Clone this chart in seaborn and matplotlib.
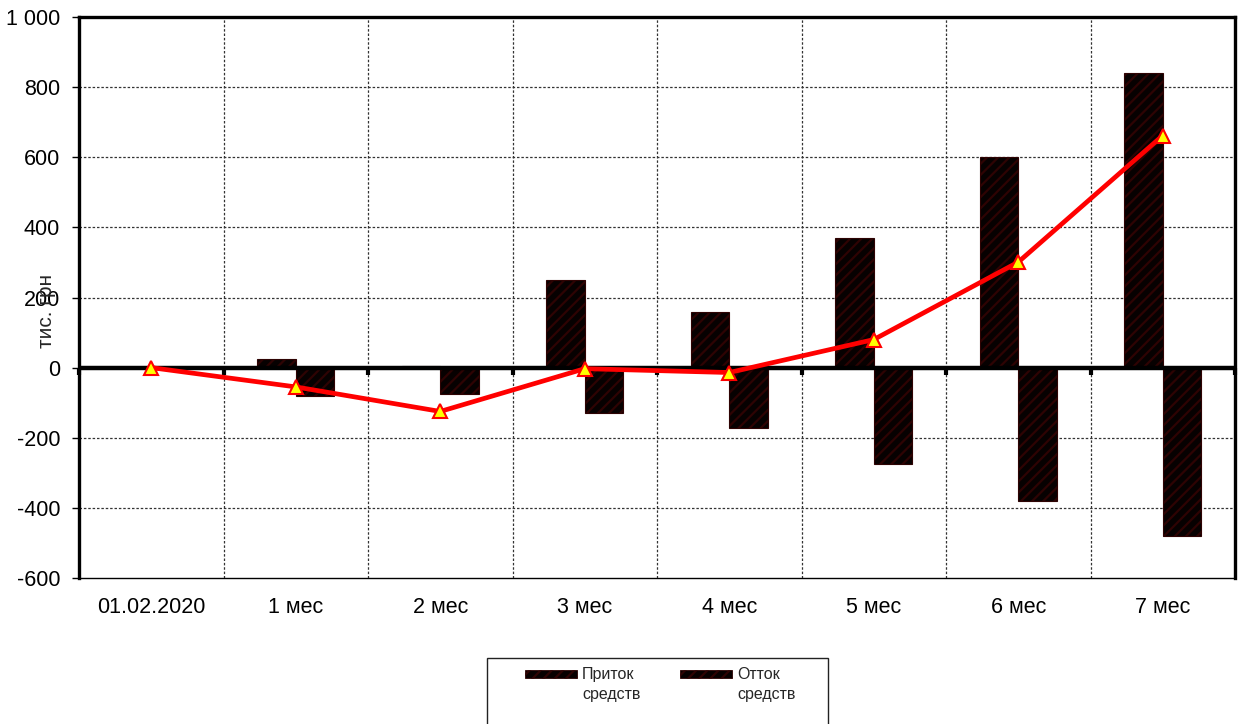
import numpy as np
import pandas as pd
import matplotlib
matplotlib.use("Agg")
import matplotlib.pyplot as plt
from matplotlib.patches import Rectangle
import seaborn as sns

# Monthly cash flow, thousand UAH
categories = ["01.02.2020", "1 мес", "2 мес", "3 мес", "4 мес", "5 мес", "6 мес", "7 мес"]
inflow = [0, 25, 5, 250, 160, 370, 600, 840]
outflow = [0, -80, -75, -128, -171, -276, -379, -479]
balance = [0, -55, -125, -3, -14, 80, 301, 662]
series_names = ["Приток\nсредств", "Отток\nсредств"]
y_ticks = [-600, -400, -200, 0, 200, 400, 600, 800, 1000]

sns.set_theme(style="white")
plt.rcParams["font.family"] = ["Liberation Sans", "DejaVu Sans"]
plt.rcParams["hatch.linewidth"] = 1.6

df = pd.DataFrame({
    "period": categories * 2,
    "value": inflow + outflow,
    "kind": [series_names[0]] * len(categories) + [series_names[1]] * len(categories),
})

W, H = 1240, 724
fig = plt.figure(figsize=(W / 100, H / 100), dpi=100)
ax = fig.add_axes([79 / W, 1 - 578 / H, (1235 - 79) / W, (578 - 17) / H])

bar_color = "#080000"
hatch_color = "#2e0303"
sns.barplot(data=df, x="period", y="value", hue="kind", order=categories,
            hue_order=series_names, palette=[bar_color, bar_color],
            width=0.53, dodge=True, ax=ax, legend=False, zorder=3)
for p in ax.patches:
    p.set_hatch("///")
    p.set_edgecolor(hatch_color)
    p.set_linewidth(0.8)

# Zero line with category-boundary tick marks
ax.axhline(0, color="black", lw=3.2, zorder=4)
bounds = np.arange(len(categories) + 1) - 0.5
ax.plot(bounds, np.zeros_like(bounds), ls="none", marker=3, ms=5, mew=3,
        color="black", zorder=4, clip_on=False)

# Cumulative balance line
sns.lineplot(x=np.arange(len(categories)), y=balance, ax=ax, color="#ff0000",
             lw=3.4, marker="^", markersize=10, markerfacecolor="#ffff00",
             markeredgecolor="#ff0000", markeredgewidth=1.5, zorder=5)

ax.set_xlim(-0.5, len(categories) - 0.5)
ax.set_ylim(-600, 1000)
ax.set_yticks(y_ticks)
ax.set_yticklabels([f"{v:,}".replace(",", " ") for v in y_ticks], fontsize=15.5)
ax.set_xticks(np.arange(len(categories)))
ax.set_xticklabels(categories, fontsize=15.5)
ax.tick_params(axis="x", length=0, pad=13.5, colors="black")
ax.tick_params(axis="y", length=5, width=1, pad=8.5, colors="black", left=True)
ax.set_xlabel("")
ax.set_ylabel("")

# Gridlines
for y in y_ticks[1:-1]:
    if y != 0:
        ax.axhline(y, color="#333333", lw=0.9, ls=(0, (2, 1.5)), zorder=1)
for b in bounds[1:-1]:
    ax.axvline(b, color="#333333", lw=0.9, ls=(0, (2, 1.5)), zorder=1)

for side in ["left", "top", "right"]:
    ax.spines[side].set_color("black")
    ax.spines[side].set_linewidth(2.4)
ax.spines["bottom"].set_color("black")
ax.spines["bottom"].set_linewidth(1.0)

fig.text(46 / W, 1 - 311 / H, "тис. грн", rotation=90, fontsize=15,
         ha="center", va="center")

# Legend panel
def fx(px):
    return px / W

def fy(py):
    return 1 - py / H

fig.patches.append(Rectangle((fx(487), fy(740)), fx(828) - fx(487), fy(658) - fy(740),
                             transform=fig.transFigure, fill=False,
                             edgecolor="#222222", lw=1.0))
for x0, label in [(525, series_names[0]), (680, series_names[1])]:
    fig.patches.append(Rectangle((fx(x0), fy(678)), fx(x0 + 52) - fx(x0), fy(670) - fy(678),
                                 transform=fig.transFigure, facecolor=bar_color,
                                 edgecolor=hatch_color, hatch="///", lw=0.6))
    fig.text(fx(x0 + 57), fy(667), label, fontsize=11.5, ha="left", va="top",
             linespacing=1.45)

fig.savefig("out.png", dpi=100)
